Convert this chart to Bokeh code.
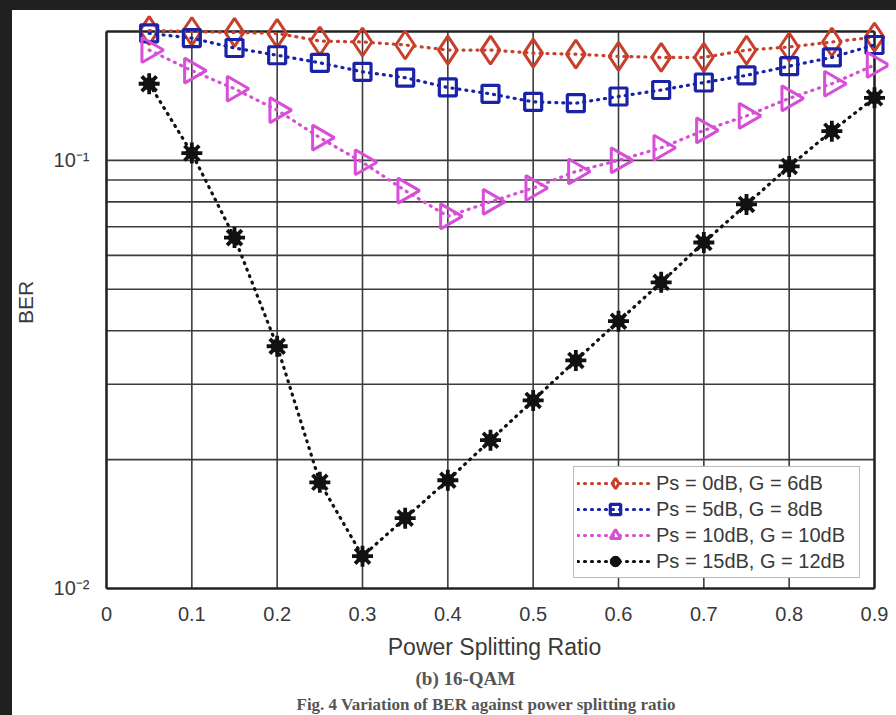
from bokeh.plotting import figure
from bokeh.models import (FixedTicker, Legend, LegendItem, Title, Range1d,
                          GlobalInlineStyleSheet)
from bokeh.embed import file_html
from bokeh.resources import INLINE

# ---------------- data ----------------
ratio = [0.05, 0.10, 0.15, 0.20, 0.25, 0.30, 0.35, 0.40, 0.45,
         0.50, 0.55, 0.60, 0.65, 0.70, 0.75, 0.80, 0.85, 0.90]
ber_ps0_g6 = [0.201, 0.200, 0.199, 0.198, 0.190, 0.189, 0.186, 0.181, 0.181,
              0.178, 0.177, 0.175, 0.174, 0.174, 0.181, 0.184, 0.189, 0.194]
ber_ps5_g8 = [0.198, 0.193, 0.183, 0.176, 0.169, 0.161, 0.156, 0.148, 0.143,
              0.137, 0.136, 0.141, 0.146, 0.152, 0.158, 0.166, 0.174, 0.186]
ber_ps10_g10 = [0.181, 0.162, 0.147, 0.131, 0.113, 0.099, 0.085, 0.0740, 0.0800,
                0.0862, 0.0942, 0.100, 0.107, 0.1175, 0.127, 0.1396, 0.151, 0.167]
ber_ps15_g12 = [0.151, 0.104, 0.066, 0.0368, 0.0177, 0.0119, 0.0146, 0.0179, 0.0222,
                0.0275, 0.0341, 0.0421, 0.0519, 0.0643, 0.0789, 0.0968, 0.117, 0.140]

series_labels = ["Ps = 0dB, G = 6dB", "Ps = 5dB, G = 8dB",
                 "Ps = 10dB, G = 10dB", "Ps = 15dB, G = 12dB"]

x_ticks = [0.0, 0.1, 0.2, 0.3, 0.4, 0.5, 0.6, 0.7, 0.8, 0.9]
x_tick_labels = ["0", "0.1", "0.2", "0.3", "0.4", "0.5", "0.6", "0.7", "0.8", "0.9"]
y_ticks = [0.01, 0.1]
y_tick_labels = ["10\u207b\u00b2", "10\u207b\u00b9"]
y_grid = [0.02, 0.03, 0.04, 0.05, 0.06, 0.07, 0.08, 0.09, 0.1]

X_MIN, X_MAX = 0.0, 0.9
Y_MIN, Y_MAX = 0.01, 0.2

caption_sub = "(b)  16-QAM"
caption_fig = "Fig. 4 Variation of BER against power splitting ratio"

# ---------------- figure ----------------
TXT = "#3a3a3a"
FONT = "Liberation Sans"

p = figure(width=896, height=715,
           x_range=Range1d(-0.00703, 0.9164),
           y_range=Range1d(0.009787, 0.2215),
           y_axis_type="log",
           output_backend="svg", toolbar_location=None,
           min_border_left=100, min_border_right=8,
           min_border_top=12, min_border_bottom=123)

p.stylesheets = [GlobalInlineStyleSheet(css=(
    "body { background: linear-gradient(to bottom, #202020 10px, transparent 10px),"
    " linear-gradient(to right, #202020 12px, #ffffff 12px); }"))]

p.border_fill_alpha = 0
p.background_fill_color = "white"
p.outline_line_color = None
p.xgrid.visible = False
p.ygrid.visible = False

# axes
p.xaxis.ticker = FixedTicker(ticks=x_ticks, minor_ticks=[])
p.xaxis.major_label_overrides = {t: s for t, s in zip(x_ticks, x_tick_labels)}
p.yaxis.ticker = FixedTicker(ticks=y_ticks, minor_ticks=[])
p.yaxis.major_label_overrides = {t: s for t, s in zip(y_ticks, y_tick_labels)}
for ax in (p.xaxis[0], p.yaxis[0]):
    ax.axis_line_color = None
    ax.major_tick_line_color = None
    ax.minor_tick_line_color = None
    ax.major_label_text_font = FONT
    ax.major_label_text_color = TXT
    ax.axis_label_text_font = FONT
    ax.axis_label_text_color = TXT
    ax.axis_label_text_font_style = "normal"
p.xaxis.major_label_text_font_size = "20px"
p.xaxis.major_label_standoff = 8
p.xaxis.axis_label = "Power Splitting Ratio"
p.xaxis.axis_label_text_font_size = "23px"
p.xaxis.axis_label_standoff = 10
p.yaxis.major_label_text_font_size = "20px"
p.yaxis.major_label_standoff = 5
p.yaxis.axis_label = "BER"
p.yaxis.axis_label_text_font_size = "21px"
p.yaxis.axis_label_standoff = 14

# captions below the axis
p.add_layout(Title(text=caption_sub, align="left", offset=315, standoff=7,
                   text_font="Liberation Serif", text_font_size="19px",
                   text_font_style="bold", text_color="#555555"), "below")
p.add_layout(Title(text=caption_fig, align="left", offset=196, standoff=0,
                   text_font="Liberation Serif", text_font_size="17px",
                   text_font_style="bold", text_color="#555555"), "below")

# grid lines (MATLAB style, limited to the axes box)
GRID = "#3c3c3c"
p.segment(x0=x_ticks, y0=[Y_MIN] * len(x_ticks), x1=x_ticks, y1=[Y_MAX] * len(x_ticks),
          line_color=GRID, line_width=1.6)
p.segment(x0=[X_MIN] * len(y_grid), y0=y_grid, x1=[X_MAX] * len(y_grid), y1=y_grid,
          line_color=GRID, line_width=1.6)
# axes box
p.segment(x0=[X_MIN, X_MIN, X_MIN, X_MAX], y0=[Y_MIN, Y_MAX, Y_MIN, Y_MIN],
          x1=[X_MAX, X_MAX, X_MIN, X_MAX], y1=[Y_MIN, Y_MAX, Y_MAX, Y_MAX],
          line_color="#222222", line_width=2.4)

# ---------------- series ----------------
DASH = "1 6"
items = []

c0 = "#c8402c"
l0 = p.line(ratio, ber_ps0_g6, line_color=c0, line_width=3.2, line_dash=DASH, line_cap="round")
m0 = p.scatter(ratio, ber_ps0_g6, marker="diamond", size=28, fill_color=None,
               line_color=c0, line_width=3)
items.append(LegendItem(label=series_labels[0], renderers=[l0, m0]))

c1 = "#1a22a8"
l1 = p.line(ratio, ber_ps5_g8, line_color=c1, line_width=3.2, line_dash=DASH, line_cap="round")
m1 = p.scatter(ratio, ber_ps5_g8, marker="square", size=17, fill_color=None,
               line_color=c1, line_width=3.2)
items.append(LegendItem(label=series_labels[1], renderers=[l1, m1]))

c2 = "#d64fd6"
l2 = p.line(ratio, ber_ps10_g10, line_color=c2, line_width=3.2, line_dash=DASH, line_cap="round")
m2 = p.scatter(ratio, ber_ps10_g10, marker="triangle", angle=-1.5708, size=25, fill_color=None,
               line_color=c2, line_width=3)
items.append(LegendItem(label=series_labels[2], renderers=[l2, m2]))

c3 = "#111111"
l3 = p.line(ratio, ber_ps15_g12, line_color=c3, line_width=3.2, line_dash=DASH, line_cap="round")
m3a = p.scatter(ratio, ber_ps15_g12, marker="asterisk", size=21, line_color=c3, line_width=3.8)
m3b = p.scatter(ratio, ber_ps15_g12, marker="circle", size=12, fill_color=c3, line_color=c3)
items.append(LegendItem(label=series_labels[3], renderers=[l3, m3a, m3b]))

legend = Legend(items=items, location=(473, 14),
                glyph_width=76, glyph_height=26, label_height=26, label_width=200,
                spacing=0, padding=3, margin=0, label_standoff=3,
                label_text_font=FONT, label_text_font_size="20px",
                label_text_color=TXT,
                border_line_color="#777777", border_line_width=1.5,
                background_fill_color="white", background_fill_alpha=1)
p.add_layout(legend)

open("out.html", "w").write(file_html(p, INLINE))
